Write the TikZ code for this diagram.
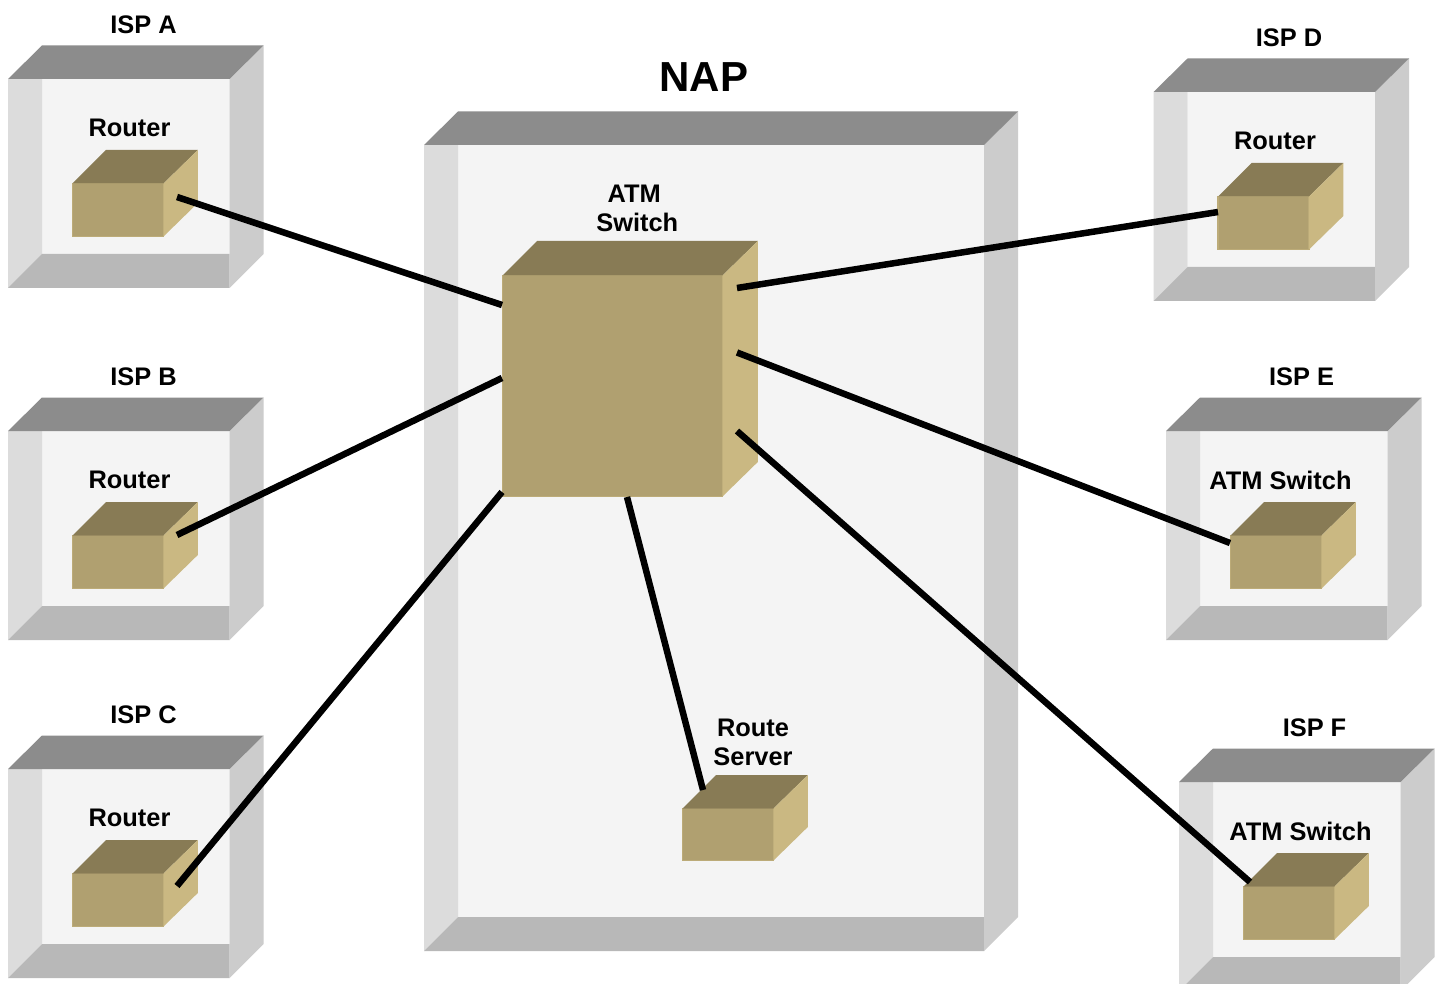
\documentclass[tikz,border=0pt]{standalone}
\usepackage{fontspec}
\setmainfont{Liberation Sans}
\usetikzlibrary{calc}
\definecolor{walltop}{RGB}{140, 140, 140}
\definecolor{wallleft}{RGB}{220, 220, 220}
\definecolor{wallright}{RGB}{204, 204, 204}
\definecolor{wallbottom}{RGB}{184, 184, 184}
\definecolor{wallback}{RGB}{244, 244, 244}
\definecolor{devfront}{RGB}{176, 160, 112}
\definecolor{devtop}{RGB}{136, 123, 85}
\definecolor{devside}{RGB}{202, 184, 130}
\definecolor{devedge}{RGB}{188, 171, 120}
\tikzset{
  devbox/.style={draw=devedge,line width=1.2pt,fill=devfront,rectangle,anchor=north west,inner sep=0,outer sep=0},
  boxtext/.style={font=\fontsize{25.4}{29}\selectfont\bfseries,align=center},
  link/.style={draw=black,line width=6.5pt},
}
% back wall and the four slanted walls of an open box
\newcommand{\wallbox}[4]{
  \fill[wallback] (#1,#2) rectangle (#3,#4);
  \fill[wallleft] (#1-34,#2) -- (#1,#2) -- (#1,#4) -- (#1-34,#4+34) -- cycle;
  \fill[wallbottom] (#1-34,#4+34) -- (#1,#4) -- (#3,#4) -- (#3,#4+34) -- cycle;
  \fill[wallright] (#3,#2) -- (#3+34,#2-33.5) -- (#3+34,#4) -- (#3,#4+34) -- cycle;
  \fill[walltop] (#1-34,#2) -- (#1,#2-33.5) -- (#3+34,#2-33.5) -- (#3,#2) -- cycle;
}
% top and side faces of a device, taken from its front node
\newcommand{\devfaces}[2]{
  \fill[devtop] (#1.north west) -- ++(#2,-#2) -- ($(#1.north east)+(#2+0.8,-#2)$) -- (#1.north east) -- cycle;
  \fill[devside] (#1.north east) -- ++(#2+0.8,-#2) -- ($(#1.south east)+(#2+0.8,-#2)$) -- (#1.south east) -- cycle;
}
\begin{document}
\begin{tikzpicture}[x=1pt,y=-1pt]
  \useasboundingbox (0,0) rectangle (1440,984);
  \clip (0,0) rectangle (1440,984);
  \fill[white] (0,0) rectangle (1440,984);

  % the NAP
  \wallbox{458}{145}{984}{917}
  \node[boxtext,font=\fontsize{42}{48}\selectfont\bfseries] (naptext) at (704,77) {NAP};

  % the six ISPs
  \foreach \isp/\dx/\dy/\dev/\devshift in {A/0/0/Router/0,B/0/352/Router/0,C/0/690/Router/0,D/1145.5/13/Router/0,E/1158/352/ATM Switch/-7,F/1171/703/ATM Switch/0}{
    \begin{scope}[shift={(\dx,\dy)}]
      \wallbox{42}{79}{229.5}{254}
      \node[boxtext] (isp\isp) at (143.5,24.3) {ISP \isp};
      \node[boxtext] (dev\isp) at (129.5+\devshift,128.3) {\dev};
      \node[devbox,minimum width=91,minimum height=53] (box\isp) at (72.5,183.5) {};
      \devfaces{box\isp}{33.5}
    \end{scope}
  }

  % ATM switch and route server
  \node[devbox,minimum width=220,minimum height=221] (atm) at (502.5,275.5) {};
  \devfaces{atm}{34.5}
  \node[boxtext] (atmtext) at (637.3,208) {ATM\hspace*{6pt}\\Switch};
  \node[devbox,minimum width=91,minimum height=52] (rs) at (682.5,808.5) {};
  \devfaces{rs}{33.5}
  \node[boxtext] (rstext) at (753,742) {Route\\Server};

  % line ends
  \coordinate (portA) at (177,197);
  \coordinate (portB) at (177,535);
  \coordinate (portC) at (177,886);
  \coordinate (portD) at (1218,212);
  \coordinate (portE) at (1230,543);
  \coordinate (portF) at (1250,882);
  \coordinate (portR) at (703,790);
  \coordinate (atmA) at (502,305);
  \coordinate (atmB) at (502,378);
  \coordinate (atmC) at (502,492);
  \coordinate (atmD) at (737,288);
  \coordinate (atmE) at (737,352.5);
  \coordinate (atmF) at (737,431);
  \coordinate (atmR) at (627,497);

  \foreach \isp in {A,B,C,D,E,F,R}
    \draw[link] (port\isp) -- (atm\isp);
\end{tikzpicture}
\end{document}
